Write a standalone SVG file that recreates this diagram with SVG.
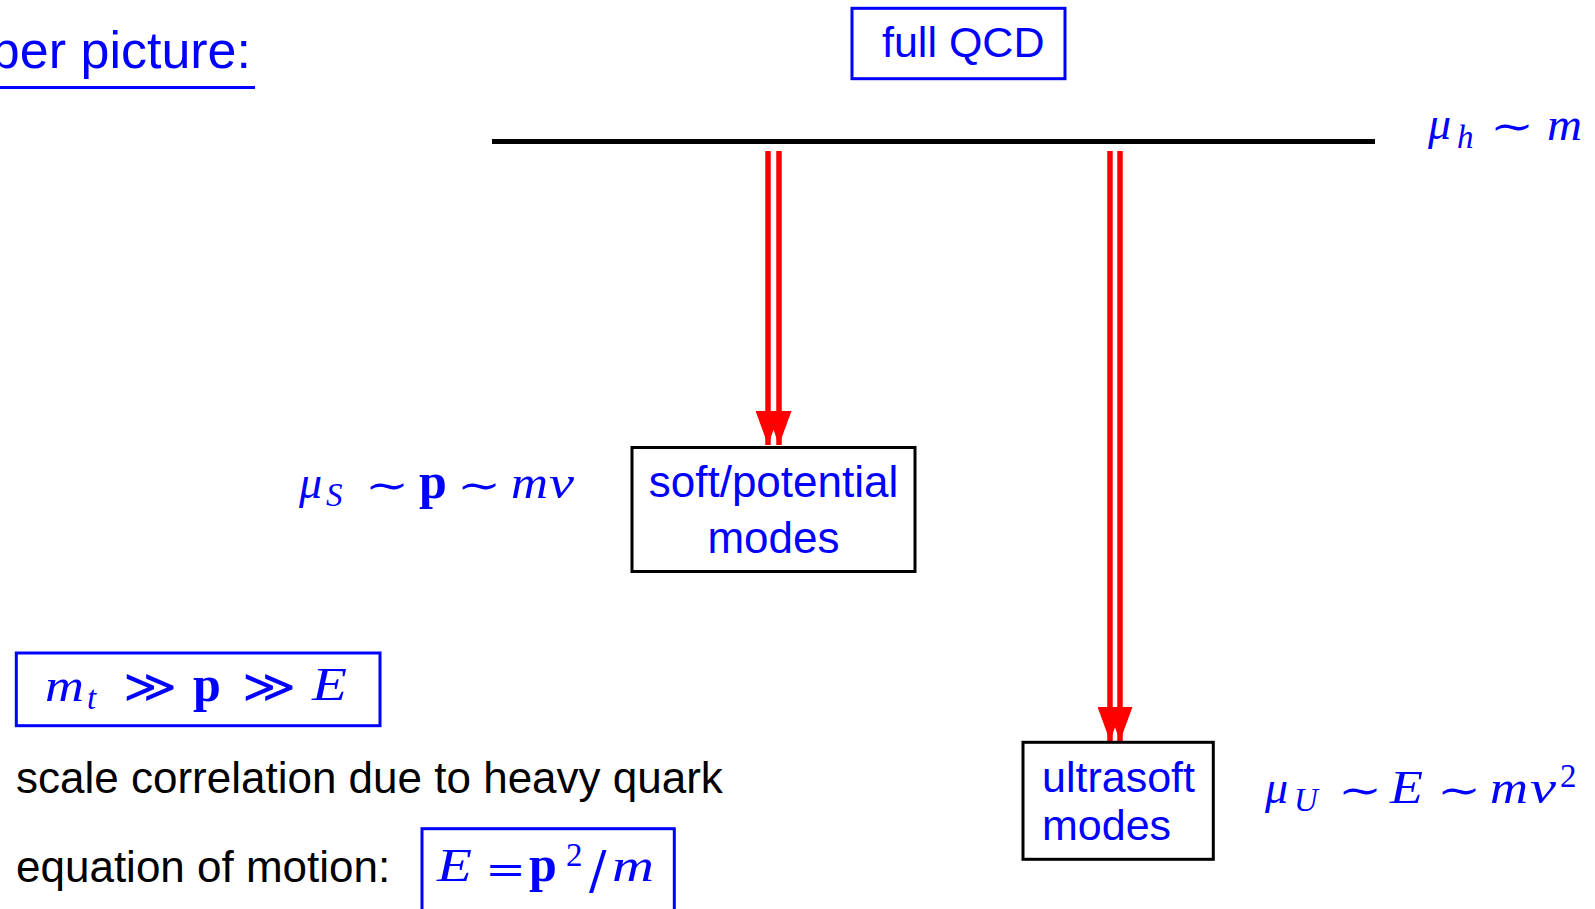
<svg xmlns="http://www.w3.org/2000/svg" width="1595" height="909" viewBox="0 0 1595 909">
<style>
.sans{font-family:"Liberation Sans",Arial,sans-serif;font-size:43px}
.blue{fill:#0000ff}
.blk{fill:#000}
.m{font-family:"Liberation Serif","DejaVu Serif",serif;font-style:italic;font-size:46px;fill:#0000ff}
.sub{font-size:33px}
.mb{font-family:"Liberation Serif","DejaVu Serif",serif;font-weight:bold;font-style:normal;font-size:50px;fill:#0000ff}
.op{font-family:"DejaVu Serif","Liberation Serif",serif;font-style:normal;font-size:40px;fill:#0000ff}
.gg{font-family:"DejaVu Serif","Liberation Serif",serif;font-style:normal;font-size:46px;fill:#0000ff}
.eq{font-family:"DejaVu Serif","Liberation Serif",serif;font-style:normal;font-size:40px;fill:#0000ff}
.num{font-family:"Liberation Serif","DejaVu Serif",serif;font-style:normal;font-size:33px;fill:#0000ff}
.bbox{fill:none;stroke:#0000ff;stroke-width:3}
.kbox{fill:#fff;stroke:#000;stroke-width:3}
.arr{stroke:#ff0000;stroke-width:5.5;fill:none}
</style>
<defs>
<marker id="ah" viewBox="0 0 34 25" refX="34" refY="12.5" markerWidth="34" markerHeight="25" markerUnits="userSpaceOnUse" orient="auto">
<path d="M0,0 L34,12.5 L0,25 z" fill="#ff0000"/>
</marker>
</defs>
<rect width="1595" height="909" fill="#fff"/>

<g id="title">
<text class="sans blue" x="251" y="68" text-anchor="end" style="font-size:52px">per picture:</text>
<rect x="0" y="86" width="255" height="3" fill="#0000ff"/>
</g>

<g id="node-full-qcd">
<rect class="bbox" x="852" y="8.3" width="213" height="70.4"/>
<text class="sans blue" x="882" y="57">full QCD</text>
</g>

<g id="hard-scale-line">
<rect x="492" y="139" width="883" height="5" fill="#000"/>
</g>

<g id="label-mu-h">
<text class="m" x="1428" y="139">μ</text>
<text class="m sub" x="1457" y="148">h</text>
<text class="op" x="1490" y="140" textLength="44" lengthAdjust="spacingAndGlyphs">∼</text>
<text class="m" x="1547" y="140" textLength="35" lengthAdjust="spacingAndGlyphs">m</text>
</g>

<g id="connectors">
<line class="arr" x1="768" y1="151" x2="768" y2="445" marker-end="url(#ah)"/>
<line class="arr" x1="779" y1="151" x2="779" y2="445" marker-end="url(#ah)"/>
<line class="arr" x1="1110" y1="151" x2="1110" y2="741" marker-end="url(#ah)"/>
<line class="arr" x1="1120" y1="151" x2="1120" y2="741" marker-end="url(#ah)"/>
</g>

<g id="node-soft">
<rect class="kbox" x="632" y="447.5" width="283" height="124"/>
<text class="sans blue" x="773.5" y="497" text-anchor="middle" style="font-size:44px">soft/potential</text>
<text class="sans blue" x="773.5" y="553" text-anchor="middle" style="font-size:44px">modes</text>
</g>

<g id="label-mu-s">
<text class="m" x="299" y="498">μ</text>
<text class="m sub" x="326" y="506">S</text>
<text class="op" x="365" y="499" textLength="44" lengthAdjust="spacingAndGlyphs">∼</text>
<text class="mb" x="419" y="498">p</text>
<text class="op" x="457" y="499" textLength="44" lengthAdjust="spacingAndGlyphs">∼</text>
<text class="m" x="511" y="498" textLength="37" lengthAdjust="spacingAndGlyphs">m</text>
<text class="m" x="549" y="498" textLength="25" lengthAdjust="spacingAndGlyphs">v</text>
</g>

<g id="node-ultrasoft">
<rect class="kbox" x="1023" y="742.3" width="190.3" height="117"/>
<text class="sans blue" x="1042" y="792">ultrasoft</text>
<text class="sans blue" x="1042" y="840">modes</text>
</g>

<g id="label-mu-u">
<text class="m" x="1265" y="803">μ</text>
<text class="m sub" x="1294" y="811">U</text>
<text class="op" x="1338" y="804" textLength="44" lengthAdjust="spacingAndGlyphs">∼</text>
<text class="m" x="1390" y="803" textLength="33" lengthAdjust="spacingAndGlyphs">E</text>
<text class="op" x="1437" y="804" textLength="44" lengthAdjust="spacingAndGlyphs">∼</text>
<text class="m" x="1490" y="803" textLength="38" lengthAdjust="spacingAndGlyphs">m</text>
<text class="m" x="1530" y="803" textLength="26" lengthAdjust="spacingAndGlyphs">v</text>
<text class="num" x="1560" y="787">2</text>
</g>

<g id="hierarchy-box">
<rect class="bbox" x="16.3" y="653" width="363.7" height="72.7"/>
<text class="m" x="45" y="701" textLength="39" lengthAdjust="spacingAndGlyphs">m</text>
<text class="m sub" x="87" y="709">t</text>
<text class="gg" x="123" y="702" textLength="54" lengthAdjust="spacingAndGlyphs">≫</text>
<text class="mb" x="193" y="701">p</text>
<text class="gg" x="242" y="702" textLength="54" lengthAdjust="spacingAndGlyphs">≫</text>
<text class="m" x="312" y="700" textLength="35" lengthAdjust="spacingAndGlyphs">E</text>
</g>

<g id="scale-correlation-text">
<text class="sans blk" x="16" y="793" style="font-size:44px">scale correlation due to heavy quark</text>
<text class="sans blk" x="16" y="882" style="font-size:44px">equation of motion:</text>
</g>

<g id="eom-box">
<rect class="bbox" x="422" y="828.7" width="252.3" height="100"/>
<text class="m" x="437" y="881" textLength="35" lengthAdjust="spacingAndGlyphs">E</text>
<text class="eq" x="485" y="883" textLength="41" lengthAdjust="spacingAndGlyphs">=</text>
<text class="mb" x="529" y="881">p</text>
<text class="num" x="566" y="866">2</text>
<text class="eq" x="589" y="888" style="font-size:52px">/</text>
<text class="m" x="612" y="881" textLength="42" lengthAdjust="spacingAndGlyphs">m</text>
</g>
</svg>
